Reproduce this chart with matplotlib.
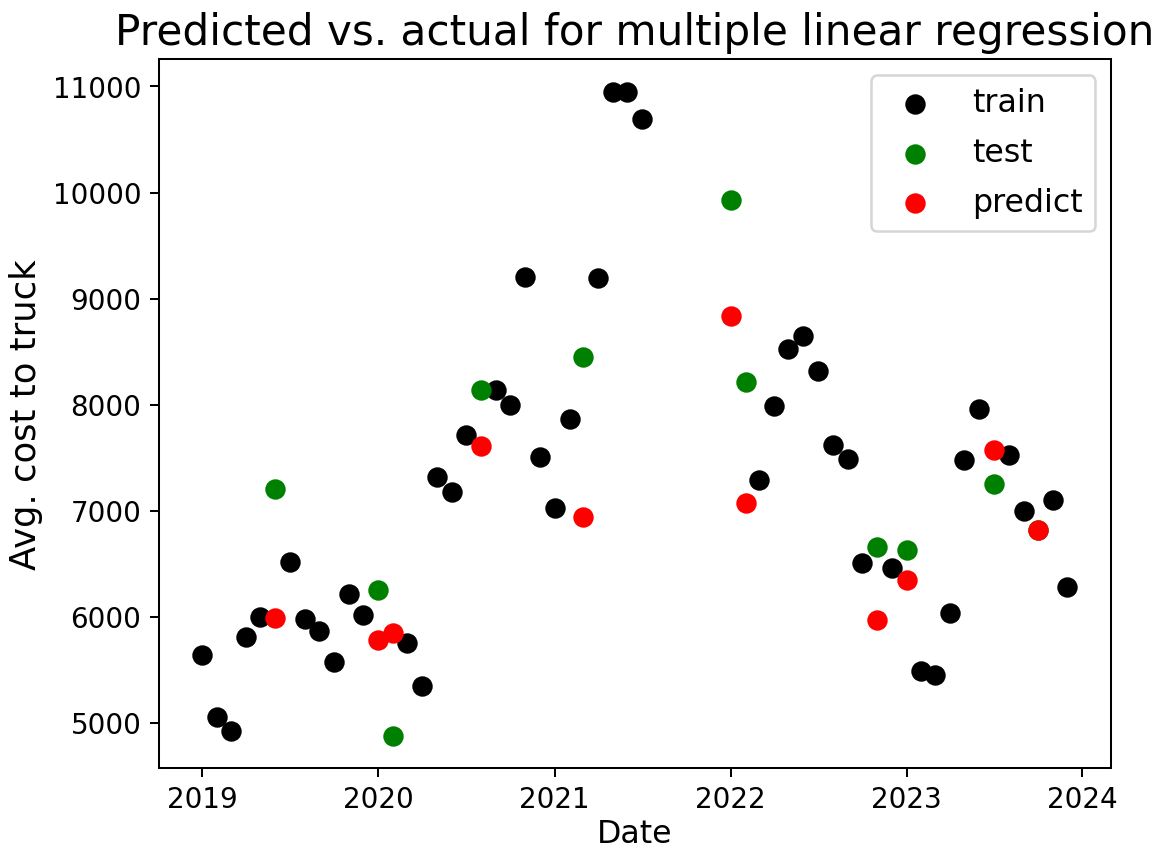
import pandas as pd
import matplotlib
matplotlib.use('Agg')
import matplotlib.pyplot as plt

# training months and average cost
train_dates = ['2019-01', '2019-02', '2019-03', '2019-04', '2019-05', '2019-07',
               '2019-08', '2019-09', '2019-10', '2019-11', '2019-12', '2020-03',
               '2020-04', '2020-05', '2020-06', '2020-07', '2020-09', '2020-10',
               '2020-11', '2020-12', '2021-01', '2021-02', '2021-04', '2021-05',
               '2021-06', '2021-07', '2022-03', '2022-04', '2022-05', '2022-06',
               '2022-07', '2022-08', '2022-09', '2022-10', '2022-12', '2023-02',
               '2023-03', '2023-04', '2023-05', '2023-06', '2023-08', '2023-09',
               '2023-11', '2023-12']
train_cost = [5640, 5055, 4925, 5810, 6000, 6515, 5980, 5865, 5575, 6215, 6015, 5750,
              5348, 7316, 7175, 7712, 8135, 7994, 9200, 7505, 7024, 7862, 9190, 10951,
              10951, 10697, 7288, 7985, 8522, 8644, 8315, 7618, 7486, 6507, 6460, 5490,
              5450, 6036, 7476, 7957, 7524, 6996, 7100, 6280]

# held-out months: actual vs. model output
test_dates = ['2019-06', '2020-01', '2020-02', '2020-08', '2021-03', '2022-01',
              '2022-02', '2022-11', '2023-01', '2023-07', '2023-10']
test_cost = [7203, 6252, 4878, 8135, 8446, 9925, 8211, 6657, 6629, 7250, 6817]
pred_cost = [5990, 5780, 5847, 7608, 6940, 8837, 7072, 5970, 6347, 7571, 6817]

train_x = pd.to_datetime(train_dates)
test_x = pd.to_datetime(test_dates)

fig, ax = plt.subplots(figsize=(6.4, 4.69), dpi=182)
ax.scatter(train_x, train_cost, color='black', s=50, label='train')
ax.scatter(test_x, test_cost, color='green', s=50, label='test')
ax.scatter(test_x, pred_cost, color='red', s=50, label='predict')

ax.set_title('Predicted vs. actual for multiple linear regression', fontsize=16.7)
ax.set_xlabel('Date', fontsize=12.5, labelpad=2)
ax.set_ylabel('Avg. cost to truck', fontsize=14)
ax.tick_params(labelsize=11)
ax.legend(fontsize=12.5, labelspacing=0.6)

fig.subplots_adjust(left=0.1366, right=0.9536, top=0.9297, bottom=0.0995)
fig.savefig('out.png', dpi=182)
